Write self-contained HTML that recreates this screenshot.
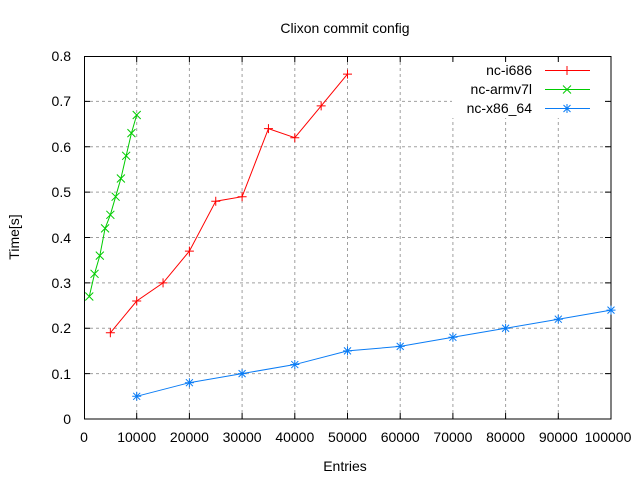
<!DOCTYPE html>
<html><head><style>body{margin:0;background:#fff}svg{display:block}text{font-family:"Liberation Sans","DejaVu Sans",sans-serif;font-size:14px;fill:#000}</style></head><body>
<svg width="640" height="480" viewBox="0 0 640 480">
<defs>
<g id="pl"><path d="M-4.5 0H4.5M0 -4.5V4.5" stroke="#f00" stroke-width="1"/></g>
<g id="cr"><path d="M-4 -4L4 4M-4 4L4 -4" stroke="#0c0" stroke-width="1"/></g>
<g id="st"><path d="M-4.5 0H4.5M0 -4.5V4.5M-3.5 -3.5L3.5 3.5M-3.5 3.5L3.5 -3.5" stroke="#0a7cf5" stroke-width="1"/></g>
</defs>
<g stroke="#a0a0a0" stroke-dasharray="3,3" stroke-width="1">
<path d="M84 373.6H611M84 328.25H611M84 282.9H611M84 237.5H611M84 192.1H611M84 146.75H611M84 101.4H611"/>
<path d="M136.7 56V419M189.4 56V419M242.1 56V419M294.8 56V419M347.5 56V419M400.2 56V419M452.9 56V419M505.6 56V419M558.3 56V419"/>
</g>
<rect x="452" y="60" width="156" height="58" fill="#fff"/>
<rect x="84.5" y="56.5" width="526.5" height="362.5" fill="none" stroke="#000"/>
<g stroke="#000">
<path d="M84 373.6h6M84 328.25h6M84 282.9h6M84 237.5h6M84 192.1h6M84 146.75h6M84 101.4h6M611 373.6h-6M611 328.25h-6M611 282.9h-6M611 237.5h-6M611 192.1h-6M611 146.75h-6M611 101.4h-6"/>
<path d="M136.7 419v-6M189.4 419v-6M242.1 419v-6M294.8 419v-6M347.5 419v-6M400.2 419v-6M452.9 419v-6M505.6 419v-6M558.3 419v-6M136.7 56v6M189.4 56v6M242.1 56v6M294.8 56v6M347.5 56v6M400.2 56v6M452.9 56v6M505.6 56v6M558.3 56v6"/>
</g>
<g text-anchor="end">
<text x="71" y="424">0</text><text x="71" y="379">0.1</text><text x="71" y="333">0.2</text><text x="71" y="288">0.3</text><text x="71" y="243">0.4</text><text x="71" y="197">0.5</text><text x="71" y="152">0.6</text><text x="71" y="106">0.7</text><text x="71" y="61">0.8</text>
</g>
<g text-anchor="middle">
<text x="84" y="442">0</text><text x="136.7" y="442">10000</text><text x="189.4" y="442">20000</text><text x="242.1" y="442">30000</text><text x="294.8" y="442">40000</text><text x="347.5" y="442">50000</text><text x="400.2" y="442">60000</text><text x="452.9" y="442">70000</text><text x="505.6" y="442">80000</text><text x="558.3" y="442">90000</text><text x="608" y="442">100000</text>
<text x="345" y="33">Clixon commit config</text>
<text x="345" y="471">Entries</text>
<text transform="translate(19,237) rotate(-90)">Time[s]</text>
</g>
<polyline fill="none" stroke="#f00" points="110.35,332.8 136.7,301 163.05,282.9 189.4,251.1 215.75,201.2 242.1,196.7 268.45,128.6 294.8,137.7 321.15,105.9 347.5,74.1"/>
<polyline fill="none" stroke="#0c0" points="89.27,296.5 94.54,273.8 99.81,255.65 105.08,228.4 110.35,214.8 115.62,196.7 120.89,178.5 126.16,155.8 131.43,133.1 136.7,115"/>
<polyline fill="none" stroke="#0a7cf5" points="136.7,396.3 189.4,382.7 242.1,373.6 294.8,364.55 347.5,350.9 400.2,346.4 452.9,337.3 505.6,328.25 558.3,319.2 611,310.1"/>
<g>
<use href="#pl" x="110.35" y="332.8"/><use href="#pl" x="136.7" y="301"/><use href="#pl" x="163.05" y="282.9"/><use href="#pl" x="189.4" y="251.1"/><use href="#pl" x="215.75" y="201.2"/><use href="#pl" x="242.1" y="196.7"/><use href="#pl" x="268.45" y="128.6"/><use href="#pl" x="294.8" y="137.7"/><use href="#pl" x="321.15" y="105.9"/><use href="#pl" x="347.5" y="74.1"/>
<use href="#cr" x="89.27" y="296.5"/><use href="#cr" x="94.54" y="273.8"/><use href="#cr" x="99.81" y="255.65"/><use href="#cr" x="105.08" y="228.4"/><use href="#cr" x="110.35" y="214.8"/><use href="#cr" x="115.62" y="196.7"/><use href="#cr" x="120.89" y="178.5"/><use href="#cr" x="126.16" y="155.8"/><use href="#cr" x="131.43" y="133.1"/><use href="#cr" x="136.7" y="115"/>
<use href="#st" x="136.7" y="396.3"/><use href="#st" x="189.4" y="382.7"/><use href="#st" x="242.1" y="373.6"/><use href="#st" x="294.8" y="364.55"/><use href="#st" x="347.5" y="350.9"/><use href="#st" x="400.2" y="346.4"/><use href="#st" x="452.9" y="337.3"/><use href="#st" x="505.6" y="328.25"/><use href="#st" x="558.3" y="319.2"/><use href="#st" x="611" y="310.1"/>
</g>
<g text-anchor="end">
<text x="532" y="75">nc-i686</text><text x="532" y="94">nc-armv7l</text><text x="532" y="113">nc-x86_64</text>
</g>
<path d="M545 70.5H590" stroke="#f00"/><use href="#pl" x="567" y="70.5"/>
<path d="M545 89.5H590" stroke="#0c0"/><use href="#cr" x="567" y="89.5"/>
<path d="M545 108.5H590" stroke="#0a7cf5"/><use href="#st" x="567" y="108.5"/>
</svg>
</body></html>
